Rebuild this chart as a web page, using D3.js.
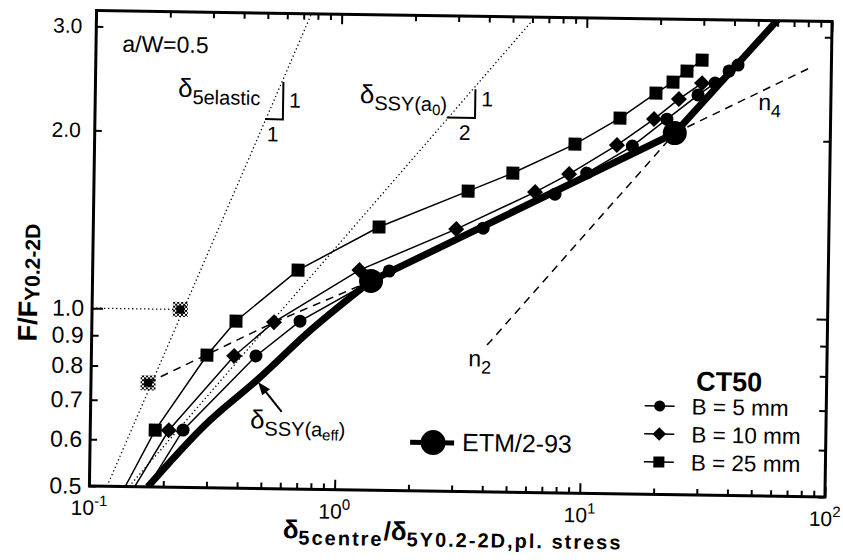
<!DOCTYPE html>
<html lang="en">
<head>
<meta charset="utf-8">
<style>
  body { margin: 0; background: #fff; }
  svg { display: block; font-family: "Liberation Sans", Arial, Helvetica, sans-serif; }
</style>
<script src="https://cdn.jsdelivr.net/npm/d3@7"></script>
</head>
<body>
<script>
// ---- data (x = delta ratio, y = F/F_Y) ----
// B = 5 mm (circles); first point is where the curve leaves the axis
const b5x = [0.173, 0.239, 0.469, 0.706, 1.62, 3.89, 7.60, 10.2, 15.6, 21.5, 28.7, 33.6, 38.3, 41.6];
const b5y = [0.5, 0.625, 0.838, 0.962, 1.176, 1.397, 1.602, 1.742, 1.941, 2.160, 2.377, 2.493, 2.615, 2.678];
// B = 10 mm (diamonds)
const b10x = [0.153, 0.209, 0.382, 0.553, 1.224, 3.02, 6.30, 8.65, 13.5, 19.05, 24.0, 29.75];
const b10y = [0.5, 0.624, 0.837, 0.957, 1.178, 1.390, 1.613, 1.734, 1.947, 2.159, 2.337, 2.490];
// B = 25 mm (squares)
const b25x = [0.140, 0.184, 0.296, 0.387, 0.688, 1.463, 3.36, 5.10, 9.10, 13.84, 19.33, 22.65, 25.79, 29.67];
const b25y = [0.5, 0.624, 0.838, 0.959, 1.174, 1.395, 1.613, 1.735, 1.949, 2.163, 2.389, 2.496, 2.608, 2.724];
// ETM/2-93: curved lower part up to the first marked point, then straight pieces
const etmLowX = [0.173, 0.293, 0.475, 0.791, 1.367];
const etmLowY = [0.5, 0.638, 0.763, 0.934, 1.130];
const etmHighX = [1.367, 23.2, 64];
const etmHighY = [1.130, 2.047, 3.30];
const etmPtX = [1.367, 23.2];
const etmPtY = [1.130, 2.047];
// reference lines
const elasticX = [0.118, 0.76];   const elasticY = [0.5, 3.22];
const ssyX = [0.145, 6.6];        const ssyY = [0.5, 3.3];
const fitX = [0.171, 0.55, 1.367]; const fitY = [0.75, 0.955, 1.130];
const n2X = [4.10, 23.2];          const n2Y = [0.886, 2.047];
const n4X = [23.2, 81.8];          const n4Y = [2.047, 2.66];
const hatchX = [0.229, 0.171];     const hatchY = [1.0, 0.75];
// ticks
const xMajor = [0.1, 1, 10, 100];
const xExp = ["-1", "0", "1", "2"];
const xMinor = [0.1, 1, 10].flatMap(d => [2, 3, 4, 5, 6, 7, 8, 9].map(k => d * k));
const yTicks = [0.5, 0.6, 0.7, 0.8, 0.9, 1.0, 2.0, 3.0];
const yLabels = ["0.5", "0.6", "0.7", "0.8", "0.9", "1.0", "2.0", "3.0"];

const zip = (a, b) => a.map((v, i) => [v, b[i]]);

const pL = 93, pR = 828.6, pT = 16, pB = 491.5;

const svg = d3.select("body").append("svg")
    .attr("width", 843)
    .attr("height", 560);

const defs = svg.append("defs");
defs.append("clipPath").attr("id", "plot")
    .append("rect").attr("x", pL).attr("y", pT)
    .attr("width", pR - pL).attr("height", pB - pT);
let pat = defs.append("pattern").attr("id", "chk")
    .attr("width", 4).attr("height", 4).attr("patternUnits", "userSpaceOnUse");
pat.append("rect").attr("width", 2).attr("height", 2).attr("fill", "#000");
pat.append("rect").attr("x", 2).attr("y", 2).attr("width", 2).attr("height", 2).attr("fill", "#000");

// the scanned figure is tilted a little
const g = svg.append("g").attr("transform", "rotate(0.86, 460, 250)");

const x = d3.scaleLog().domain([0.1, 100]).range([pL, pR]);
const y = d3.scaleLog().domain([0.5, 3.19]).range([pB, pT]);
const line = d3.line().x(d => x(d[0])).y(d => y(d[1]));

// ---- axes ----
function ticks(axis, pos, vals, size) {
    g.append("g").attr("transform", pos)
        .call(axis.tickValues(vals).tickSize(size).tickFormat(""))
        .call(s => s.select(".domain").remove())
        .call(s => s.selectAll("line").attr("stroke", "#000").attr("stroke-width", 2));
}
ticks(d3.axisBottom(x), `translate(0,${pB})`, xMinor, -6);
ticks(d3.axisBottom(x), `translate(0,${pB})`, xMajor, -10);
ticks(d3.axisTop(x), `translate(0,${pT})`, xMinor, -6);
ticks(d3.axisTop(x), `translate(0,${pT})`, xMajor, -10);
ticks(d3.axisLeft(y), `translate(${pL},0)`, yTicks.filter(d => d != 1), -7);
ticks(d3.axisLeft(y), `translate(${pL},0)`, [1], -11);
ticks(d3.axisRight(y), `translate(${pR},0)`, yTicks.filter(d => d != 1), -7);
ticks(d3.axisRight(y), `translate(${pR},0)`, [1], -11);

g.append("rect")
    .attr("x", pL).attr("y", pT)
    .attr("width", pR - pL).attr("height", pB - pT)
    .attr("fill", "none").attr("stroke", "#000").attr("stroke-width", 3);

// tick labels
let xl = g.selectAll(".xl").data(xMajor).enter().append("text")
    .attr("x", d => x(d)).attr("y", pB + 29)
    .attr("text-anchor", "middle").attr("font-size", 21);
xl.append("tspan").text("10");
xl.append("tspan").attr("dy", -9).attr("font-size", 15).text((d, i) => xExp[i]);

g.selectAll(".yl").data(yTicks).enter().append("text")
    .attr("x", d => d > 1.5 ? pL - 14 : pL - 8)
    .attr("y", d => y(d) + (d > 1.5 ? 7 : 8))
    .attr("text-anchor", "end")
    .attr("font-size", d => d > 1.5 ? 21 : 23)
    .text((d, i) => yLabels[i]);

// axis titles
let xt = g.append("text").attr("x", 287).attr("y", 541).attr("font-weight", "bold");
xt.append("tspan").attr("font-size", 26).text("δ");
xt.append("tspan").attr("font-size", 20).attr("dy", 6).attr("letter-spacing", 2).text("5centre");
xt.append("tspan").attr("font-size", 26).attr("dy", -6).text("/δ");
xt.append("tspan").attr("font-size", 20).attr("dy", 6).attr("letter-spacing", 2).text("5Y0.2-2D,pl. stress");

let yt = g.append("text").attr("transform", "translate(38,289) rotate(-90)")
    .attr("text-anchor", "middle").attr("font-weight", "bold");
yt.append("tspan").attr("font-size", 27).text("F/F");
yt.append("tspan").attr("font-size", 21).attr("dy", 2).text("Y0.2-2D");

// ---- plot contents ----
const p = g.append("g").attr("clip-path", "url(#plot)");

p.append("path").datum(zip(elasticX, elasticY)).attr("d", line)
    .attr("fill", "none").attr("stroke", "#000").attr("stroke-width", 1.3).attr("stroke-dasharray", "1.3,2.7");
p.append("path").datum(zip(ssyX, ssyY)).attr("d", line)
    .attr("fill", "none").attr("stroke", "#000").attr("stroke-width", 1.3).attr("stroke-dasharray", "1.3,2.7");
p.append("path").datum([[0.1, hatchY[0]], [hatchX[0], hatchY[0]]]).attr("d", line)
    .attr("fill", "none").attr("stroke", "#000").attr("stroke-width", 1.3).attr("stroke-dasharray", "1.3,2.7");

[[fitX, fitY], [n2X, n2Y], [n4X, n4Y]].forEach(([a, b]) => {
    p.append("path").datum(zip(a, b)).attr("d", line)
        .attr("fill", "none").attr("stroke", "#000").attr("stroke-width", 1.5).attr("stroke-dasharray", "8,6");
});

// hatched (elastic) points
zip(hatchX, hatchY).forEach(d => {
    p.append("rect").attr("x", x(d[0]) - 7.5).attr("y", y(d[1]) - 7.5)
        .attr("width", 15).attr("height", 15).attr("fill", "url(#chk)");
    p.append("rect").attr("x", x(d[0]) - 4).attr("y", y(d[1]) - 4)
        .attr("width", 8).attr("height", 8).attr("fill", "#000");
});

const diamond = "M0,-8L8,0L0,8L-8,0Z";
const series = [
    { xs: b5x, ys: b5y, shape: "circle" },
    { xs: b10x, ys: b10y, shape: "diamond" },
    { xs: b25x, ys: b25y, shape: "square" }
];

function marker(sel, shape, s) {
    if (shape == "circle") sel.append("circle").attr("r", 6.5 * s);
    else if (shape == "diamond") sel.append("path").attr("d", diamond).attr("transform", `scale(${s})`);
    else sel.append("rect").attr("x", -6.5 * s).attr("y", -6.5 * s).attr("width", 13 * s).attr("height", 13 * s);
}

series.forEach(sr => {
    let pts = zip(sr.xs, sr.ys);
    p.append("path").datum(pts).attr("d", line)
        .attr("fill", "none").attr("stroke", "#000").attr("stroke-width", 1.5);
    p.selectAll(null).data(pts.filter(d => d[1] > 0.5)).enter().append("g")
        .attr("transform", d => `translate(${x(d[0])},${y(d[1])})`)
        .attr("fill", "#000")
        .each(function () { marker(d3.select(this), sr.shape, 1); });
});

p.append("path").datum(zip(etmLowX, etmLowY)).attr("d", line.curve(d3.curveMonotoneX))
    .attr("fill", "none").attr("stroke", "#000").attr("stroke-width", 7).attr("stroke-linejoin", "round");
p.append("path").datum(zip(etmHighX, etmHighY)).attr("d", line.curve(d3.curveLinear))
    .attr("fill", "none").attr("stroke", "#000").attr("stroke-width", 7);
p.selectAll(null).data(zip(etmPtX, etmPtY)).enter().append("circle")
    .attr("cx", d => x(d[0])).attr("cy", d => y(d[1])).attr("r", 12).attr("fill", "#000");

// slope triangles
function slope(cx, cy, lx, ty, h, v) {
    g.append("path")
        .attr("d", `M${x(lx)},${y(cy)}L${x(cx)},${y(cy)}L${x(cx)},${y(ty)}`)
        .attr("fill", "none").attr("stroke", "#000").attr("stroke-width", 2);
    g.append("text").attr("x", x(cx) + 6).attr("y", y(cy) - 12).attr("font-size", 21).text(v);
    g.append("text").attr("x", x(cx) - 10).attr("y", y(cy) + 22)
        .attr("text-anchor", "middle").attr("font-size", 21).text(h);
}
slope(0.584, 2.11, 0.494, 2.44, "1", "1");
slope(3.547, 2.145, 2.72, 2.40, "2", "1");

// annotations
g.append("text").attr("x", x(0.128)).attr("y", y(2.72)).attr("font-size", 23).text("a/W=0.5");

function delta(px, py, sub, subsub) {
    let t = g.append("text").attr("x", x(px)).attr("y", y(py));
    t.append("tspan").attr("font-size", 26).text("δ");
    t.append("tspan").attr("font-size", 20).attr("dy", 7).text(sub);
    if (subsub) {
        t.append("tspan").attr("font-size", 15).attr("dy", 4).text(subsub);
        t.append("tspan").attr("font-size", 20).attr("dy", -4).text(")");
    }
}
delta(0.2175, 2.29, "5elastic");
delta(1.20, 2.26, "SSY(a", "0");
delta(0.448, 0.632, "SSY(a", "eff");

// arrow to the effective-crack curve
const ax0 = x(0.602), ay0 = y(0.675), ax1 = x(0.48), ay1 = y(0.757);
const ang = Math.atan2(ay1 - ay0, ax1 - ax0);
g.append("line").attr("x1", ax0).attr("y1", ay0)
    .attr("x2", ax1 - 8 * Math.cos(ang)).attr("y2", ay1 - 8 * Math.sin(ang))
    .attr("stroke", "#000").attr("stroke-width", 2);
g.append("path")
    .attr("d", `M0,0L-13,-5L-13,5Z`)
    .attr("transform", `translate(${ax1},${ay1}) rotate(${ang * 180 / Math.PI})`)
    .attr("fill", "#000");

function nLabel(px, py, k) {
    let t = g.append("text").attr("x", x(px)).attr("y", y(py)).attr("font-size", 23);
    t.append("tspan").text("n");
    t.append("tspan").attr("font-size", 18).attr("dy", 7).text(k);
}
nLabel(50.6, 2.25, "4");
nLabel(3.45, 0.815, "2");

// ---- legends ----
const legNames = ["B = 5 mm", "B = 10 mm", "B = 25 mm"];
const legY = [403, 431, 459];
g.append("text").attr("x", 698).attr("y", 387)
    .attr("font-size", 27).attr("font-weight", "bold").text("CT50");
series.forEach((sr, i) => {
    g.append("line").attr("x1", 647).attr("x2", 677).attr("y1", legY[i]).attr("y2", legY[i])
        .attr("stroke", "#000").attr("stroke-width", 1.5);
    let m = g.append("g").attr("transform", `translate(662,${legY[i]})`).attr("fill", "#000");
    marker(m, sr.shape, 0.85);
    g.append("text").attr("x", 694).attr("y", legY[i] + 8).attr("font-size", 22.5).text(legNames[i]);
});

g.append("line").attr("x1", 413).attr("x2", 457).attr("y1", 443).attr("y2", 443)
    .attr("stroke", "#000").attr("stroke-width", 5);
g.append("circle").attr("cx", 436).attr("cy", 443).attr("r", 12.5).attr("fill", "#000");
g.append("text").attr("x", 465).attr("y", 451).attr("font-size", 25).text("ETM/2-93");
</script>
</body>
</html>
